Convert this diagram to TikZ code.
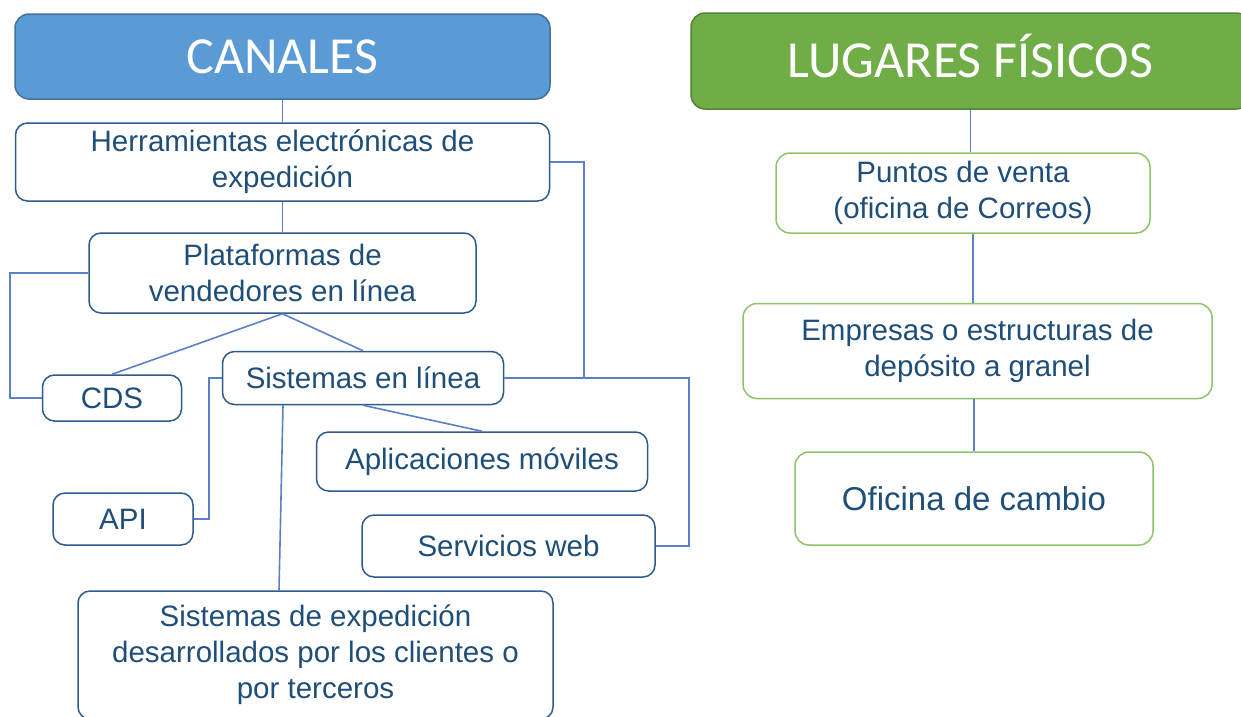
\documentclass[tikz,border=0pt]{standalone}
\usepackage{fontspec}
\setmainfont{Liberation Sans}
\newfontfamily\headfont{Carlito}
\usepackage{tikz}

\definecolor{canalfill}{HTML}{5B9BD5}
\definecolor{canaldraw}{HTML}{41719C}
\definecolor{lugarfill}{HTML}{70AD47}
\definecolor{lugardraw}{HTML}{548235}
\definecolor{boxdraw}{HTML}{2F5A8C}
\definecolor{boxtext}{HTML}{1F4E79}
\definecolor{linkblue}{HTML}{5B80C8}
\definecolor{greendraw}{HTML}{8CC46A}

\tikzstyle{header} = [rectangle, rounded corners=14pt, inner sep=0pt, text centered, text=white, line width=1.5pt, text height=33pt, text depth=0pt, font=\headfont\fontsize{52}{60}\selectfont]
\tikzstyle{canal} = [rectangle, rounded corners=12pt, inner sep=0pt, text centered, align=center, draw=boxdraw, line width=1.5pt, text=boxtext, fill=white, font=\fontsize{29.5}{36}\selectfont]
\tikzstyle{lugar} = [rectangle, rounded corners=14pt, inner sep=0pt, text centered, align=center, draw=greendraw, line width=1.5pt, text=boxtext, fill=white, font=\fontsize{29.5}{36}\selectfont]
\tikzstyle{line} = [draw=linkblue, line width=1.6pt]

\begin{document}
\begin{tikzpicture}[x=1pt, y=1pt, node distance=100pt]

\useasboundingbox (0,0) rectangle (1241,-716);

% canales
\node (canales) [header, fill=canalfill, draw=canaldraw, minimum width=535pt, minimum height=85pt] at (282.5,-56.5) {CANALES};
\node (herr) [canal, below of=canales, yshift=-5.5pt, minimum width=534pt, minimum height=78pt] {Herramientas electrónicas de\\expedición};
\node (plat) [canal, below of=herr, yshift=-11pt, minimum width=387pt, minimum height=80pt] {Plataformas de\\vendedores en línea};
\node (sist) [canal, below of=plat, xshift=80.5pt, yshift=-5pt, minimum width=281pt, minimum height=53pt] {Sistemas en línea};
\node (cds) [canal, below of=plat, xshift=-170.5pt, yshift=-25pt, minimum width=139pt, minimum height=46pt] {CDS};
\node (apps) [canal, below of=sist, xshift=119pt, yshift=16.5pt, minimum width=331pt, minimum height=59pt] {Aplicaciones móviles};
\node (api) [canal, below of=cds, xshift=11pt, yshift=-21pt, minimum width=140pt, minimum height=52pt] {API};
\node (serv) [canal, below of=apps, xshift=26.5pt, yshift=15.5pt, minimum width=293pt, minimum height=62pt] {Servicios web};
\node (desa) [canal, below of=sist, xshift=-47.5pt, yshift=-177pt, minimum width=475pt, minimum height=128pt] {Sistemas de expedición\\desarrollados por los clientes o\\por terceros};

% lugares fisicos
\node (lugares) [header, fill=lugarfill, draw=lugardraw, minimum width=559pt, minimum height=96pt] at (970.5,-61) {LUGARES FÍSICOS};
\node (puntos) [lugar, below of=lugares, xshift=-7.5pt, yshift=-32pt, minimum width=374pt, minimum height=80pt] {Puntos de venta\\(oficina de Correos)};
\node (empresas) [lugar, below of=puntos, xshift=14.5pt, yshift=-58pt, minimum width=469pt, minimum height=95pt] {Empresas o estructuras de\\depósito a granel};
\node (oficina) [lugar, below of=empresas, xshift=-3.5pt, yshift=-47.5pt, minimum width=358pt, minimum height=93pt, font=\fontsize{33}{40}\selectfont] {Oficina de cambio};

\coordinate (j1) at (584,-378);
\coordinate (j2) at (10,-398);
\coordinate (j3) at (209,-519);
\coordinate (j4) at (689,-546);

\draw [line] (canales) -- (herr);
\draw [line] (herr) -- (plat);
\draw [line] (herr.east) -| (j1) -- (sist.east);
\draw [line] (plat.west) -| (j2) -- (cds.west);
\draw [line] (plat.south) -- (cds.north);
\draw [line] (plat.south) -- (sist.north);
\draw [line] (sist.west) -| (j3) -- (api.east);
\draw [line] (sist.south) -- (apps.north);
\draw [line] ([xshift=-80pt]sist.south) -- ([xshift=-36.5pt]desa.north);
\draw [line] (sist.east) -| (j4) -- (serv.east);

\draw [line] (lugares.south) -- (lugares.south |- puntos.north);
\draw [line] ([xshift=10pt]puntos.south) -- ([xshift=10pt]puntos.south |- empresas.north);
\draw [line] (empresas.south -| oficina.north) -- (oficina.north);

\end{tikzpicture}
\end{document}
